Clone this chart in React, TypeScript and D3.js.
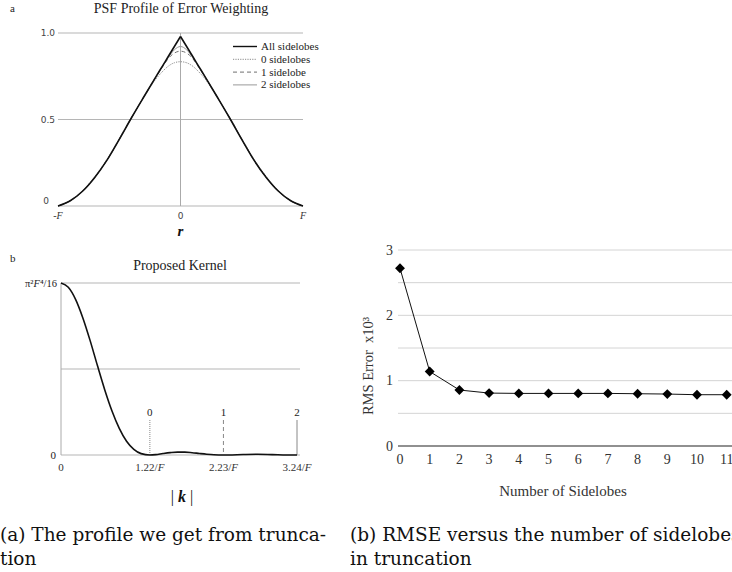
import React from 'react';
import * as d3 from 'd3';

// ---------- Data ----------
const profileR = [-1, -0.9, -0.8, -0.7, -0.6, -0.5, -0.4, -0.3, -0.2, -0.15, -0.1, -0.05, 0, 0.05, 0.1, 0.15, 0.2, 0.3, 0.4, 0.5, 0.6, 0.7, 0.8, 0.9, 1];
const allSidelobes = [0, 0.03, 0.085, 0.165, 0.265, 0.385, 0.51, 0.63, 0.748, 0.806, 0.864, 0.922, 0.98, 0.922, 0.864, 0.806, 0.748, 0.63, 0.51, 0.385, 0.265, 0.165, 0.085, 0.03, 0];
const sidelobes0 = [0, 0.032, 0.088, 0.17, 0.27, 0.39, 0.513, 0.628, 0.735, 0.775, 0.808, 0.828, 0.834, 0.828, 0.808, 0.775, 0.735, 0.628, 0.513, 0.39, 0.27, 0.17, 0.088, 0.032, 0];
const sidelobes1 = [0, 0.03, 0.085, 0.165, 0.265, 0.385, 0.51, 0.63, 0.746, 0.8, 0.852, 0.884, 0.895, 0.884, 0.852, 0.8, 0.746, 0.63, 0.51, 0.385, 0.265, 0.165, 0.085, 0.03, 0];
const sidelobes2 = [0, 0.03, 0.085, 0.165, 0.265, 0.385, 0.51, 0.63, 0.748, 0.804, 0.858, 0.903, 0.922, 0.903, 0.858, 0.804, 0.748, 0.63, 0.51, 0.385, 0.265, 0.165, 0.085, 0.03, 0];
const legendLabels = ['All sidelobes', '0 sidelobes', '1 sidelobe', '2 sidelobes'];
const profileYTicks = [0, 0.5, 1.0];
const profileYTickLabels = ['0', '0.5', '1.0'];

const kernelK = [0, 0.1, 0.2, 0.3, 0.4, 0.5, 0.6, 0.7, 0.8, 0.9, 1.0, 1.1, 1.22, 1.3, 1.4, 1.5, 1.6, 1.7, 1.8, 1.9, 2.0, 2.1, 2.23, 2.3, 2.5, 2.7, 2.9, 3.1, 3.24];
const kernelV = [1, 0.975, 0.905, 0.797, 0.665, 0.52, 0.38, 0.256, 0.155, 0.08, 0.033, 0.008, 0, 0.0023, 0.0085, 0.0138, 0.017, 0.0168, 0.0134, 0.0089, 0.0047, 0.0015, 0, 0.0002, 0.0026, 0.0041, 0.0024, 0.0004, 0];
const kernelMarks = [1.22, 2.23, 3.24];
const kernelMarkLabels = ['0', '1', '2'];
const kernelXLabels = ['1.22/', '2.23/', '3.24/'];

const sidelobeCount = [0, 1, 2, 3, 4, 5, 6, 7, 8, 9, 10, 11];
const rmsError = [2.72, 1.14, 0.857, 0.81, 0.805, 0.805, 0.805, 0.805, 0.8, 0.795, 0.785, 0.785];
const rmsYTicks = [0, 0.5, 1, 1.5, 2, 2.5, 3];

const SERIF = "'Liberation Serif', 'Times New Roman', serif";
const SANS = "'DejaVu Sans', 'Liberation Sans', sans-serif";
const CAPTION = "'DejaVu Serif', serif";

export default function App() {
  // ---------- Chart a ----------
  const ax = d3.scaleLinear().domain([-1, 1]).range([58, 303]);
  const ay = d3.scaleLinear().domain([0, 1]).range([206, 33]);
  const lineA = (vals: number[], from: number, to: number, curve: any) =>
    d3.line<number>()
      .x((_, i) => ax(profileR[from + i]))
      .y((v) => ay(v))
      .curve(curve)(vals.slice(from, to + 1)) || '';
  const mid = profileR.indexOf(0);
  const last = profileR.length - 1;

  // ---------- Chart b ----------
  const bx = d3.scaleLinear().domain([0, 3.24]).range([61, 297]);
  const by = d3.scaleLinear().domain([0, 1]).range([455, 283]);
  const kernelPath = d3.line<number>()
    .x((_, i) => bx(kernelK[i]))
    .y((v) => by(v))
    .curve(d3.curveMonotoneX)(kernelV) || '';

  // ---------- Chart c ----------
  const cx = d3.scaleLinear().domain([0, 11]).range([400, 726.7]);
  const cy = d3.scaleLinear().domain([0, 3]).range([446, 250]);
  const rmsPath = d3.line<number>()
    .x((_, i) => cx(sidelobeCount[i]))
    .y((v) => cy(v))(rmsError) || '';
  const diamond = d3.symbol().type(d3.symbolDiamond2).size(62)() || '';

  const legendStyles = [
    { stroke: '#111', width: 1.6, dash: 'none' },
    { stroke: '#8a8a8a', width: 1, dash: '1.2,1.2' },
    { stroke: '#707070', width: 1, dash: '4,3' },
    { stroke: '#999', width: 1, dash: 'none' },
  ];
  const series = [allSidelobes, sidelobes0, sidelobes1, sidelobes2];

  return (
    <svg width={732} height={572} style={{ position: 'absolute', left: 0, top: 0, background: '#fff' }}>
      <rect x={0} y={0} width={732} height={572} fill="#fff" />
      {/* ===== Chart a ===== */}
      <text x={10} y={12} fontFamily={SERIF} fontSize={11} fill="#222">a</text>
      <text x={181} y={13} textAnchor="middle" fontFamily={SERIF} fontSize={14} fill="#222">PSF Profile of Error Weighting</text>
      {profileYTicks.map((t, i) => (
        <g key={'ayt' + i}>
          {t > 0 && <line x1={58} x2={303} y1={ay(t)} y2={ay(t)} stroke="#b5b5b5" strokeWidth={1} />}
          <text x={t === 0 ? 49 : 55} y={t === 0 ? ay(t) - 2 : ay(t) + 3} textAnchor="end" fontFamily={SANS} fontSize={9} fill="#444">{profileYTickLabels[i]}</text>
        </g>
      ))}
      <line x1={58} x2={303} y1={ay(0)} y2={ay(0)} stroke="#b5b5b5" strokeWidth={1} />
      <line x1={ax(0)} x2={ax(0)} y1={ay(1)} y2={ay(0)} stroke="#aaa" strokeWidth={1} />
      {[3, 2, 1].map((si) => (
        <path key={'s' + si} d={lineA(series[si], 0, last, d3.curveMonotoneX)} fill="none"
          stroke={legendStyles[si].stroke} strokeWidth={legendStyles[si].width} strokeDasharray={legendStyles[si].dash} />
      ))}
      <path d={lineA(allSidelobes, 0, mid, d3.curveMonotoneX)} fill="none" stroke="#111" strokeWidth={1.6} />
      <path d={lineA(allSidelobes, mid, last, d3.curveMonotoneX)} fill="none" stroke="#111" strokeWidth={1.6} />
      <text x={ax(-1)} y={219} textAnchor="middle" fontFamily={SERIF} fontStyle="italic" fontSize={10} fill="#333">-F</text>
      <text x={ax(0)} y={219} textAnchor="middle" fontFamily={SANS} fontSize={9} fill="#444">0</text>
      <text x={ax(1)} y={219} textAnchor="middle" fontFamily={SERIF} fontStyle="italic" fontSize={10} fill="#333">F</text>
      <text x={ax(0)} y={236} textAnchor="middle" fontFamily={SERIF} fontStyle="italic" fontWeight="bold" fontSize={15} fill="#111">r</text>
      {legendLabels.map((lab, i) => {
        const y = 46.5 + i * 12.8;
        const st = legendStyles[i];
        return (
          <g key={'lg' + i}>
            <line x1={233} x2={257} y1={y} y2={y} stroke={st.stroke} strokeWidth={i === 0 ? 1.4 : 1} strokeDasharray={st.dash} />
            <text x={261} y={y + 3.5} fontFamily={SERIF} fontSize={11} fill="#222">{lab}</text>
          </g>
        );
      })}

      {/* ===== Chart b ===== */}
      <text x={10} y={262} fontFamily={SERIF} fontSize={11} fill="#222">b</text>
      <text x={180} y={270} textAnchor="middle" fontFamily={SERIF} fontSize={14} fill="#222">Proposed Kernel</text>
      <line x1={61} x2={300} y1={by(1)} y2={by(1)} stroke="#b5b5b5" strokeWidth={1} />
      <line x1={61} x2={300} y1={by(0.5)} y2={by(0.5)} stroke="#b5b5b5" strokeWidth={1} />
      <line x1={61} x2={300} y1={by(0)} y2={by(0)} stroke="#b5b5b5" strokeWidth={1} />
      <line x1={61} x2={61} y1={by(1)} y2={by(0)} stroke="#aaa" strokeWidth={1} />
      <text x={57} y={by(1) + 3.5} textAnchor="end" fontFamily={SERIF} fontSize={10.5} fill="#222">
        π²<tspan fontStyle="italic">F</tspan>⁴/16
      </text>
      <text x={56} y={by(0) + 3.5} textAnchor="end" fontFamily={SERIF} fontSize={11} fill="#222">0</text>
      {kernelMarks.map((m, i) => (
        <g key={'km' + i}>
          <line x1={bx(m)} x2={bx(m)} y1={420} y2={by(0)} stroke="#888" strokeWidth={1}
            strokeDasharray={i === 0 ? '1,1' : i === 1 ? '4,3' : 'none'} />
          <text x={bx(m)} y={415.5} textAnchor="middle" fontFamily={SERIF} fontSize={11} fill="#222">{kernelMarkLabels[i]}</text>
          <text x={bx(m)} y={471} textAnchor="middle" fontFamily={SERIF} fontSize={11} fill="#333">
            {kernelXLabels[i]}<tspan fontStyle="italic">F</tspan>
          </text>
        </g>
      ))}
      <text x={bx(0)} y={471} textAnchor="middle" fontFamily={SERIF} fontSize={11} fill="#333">0</text>
      <path d={kernelPath} fill="none" stroke="#111" strokeWidth={1.6} />
      <text x={182} y={502} textAnchor="middle" fontFamily={SERIF} fontSize={16} fill="#111">
        | <tspan fontWeight="bold" fontStyle="italic">k</tspan> |
      </text>

      {/* ===== Chart c ===== */}
      {rmsYTicks.map((t, i) => (
        <g key={'cyt' + i}>
          <line x1={398} x2={732} y1={cy(t)} y2={cy(t)} stroke={t === 0 ? '#222' : '#d4d4d4'} strokeWidth={t === 0 ? 1.2 : 1} />
          {Number.isInteger(t) && (
            <text x={393} y={cy(t) + 4.5} textAnchor="end" fontFamily={SERIF} fontSize={14} fill="#333">{t}</text>
          )}
        </g>
      ))}
      {sidelobeCount.map((n) => (
        <text key={'cx' + n} x={cx(n)} y={464} textAnchor="middle" fontFamily={SERIF} fontSize={14} fill="#333">{n}</text>
      ))}
      <text x={563} y={496} textAnchor="middle" fontFamily={SERIF} fontSize={15} fill="#333">Number of Sidelobes</text>
      <text transform="translate(373,366) rotate(-90)" textAnchor="middle" fontFamily={SERIF} fontSize={14.5} fill="#333">
        {'RMS Error\u00a0\u00a0x10³'}
      </text>
      <path d={rmsPath} fill="none" stroke="#111" strokeWidth={1} />
      {rmsError.map((v, i) => (
        <path key={'dm' + i} d={diamond} transform={`translate(${cx(sidelobeCount[i])},${cy(v)})`} fill="#000" />
      ))}

      {/* ===== Captions ===== */}
      <text x={0} y={541} fontFamily={CAPTION} fontSize={18.5} fill="#111">(a) The profile we get from trunca-</text>
      <text x={0} y={565} fontFamily={CAPTION} fontSize={18.5} fill="#111">tion</text>
      <text x={350} y={541} fontFamily={CAPTION} fontSize={18.5} fill="#111">(b) RMSE versus the number of sidelobes</text>
      <text x={350} y={565} fontFamily={CAPTION} fontSize={18.5} fill="#111">in truncation</text>
    </svg>
  );
}
